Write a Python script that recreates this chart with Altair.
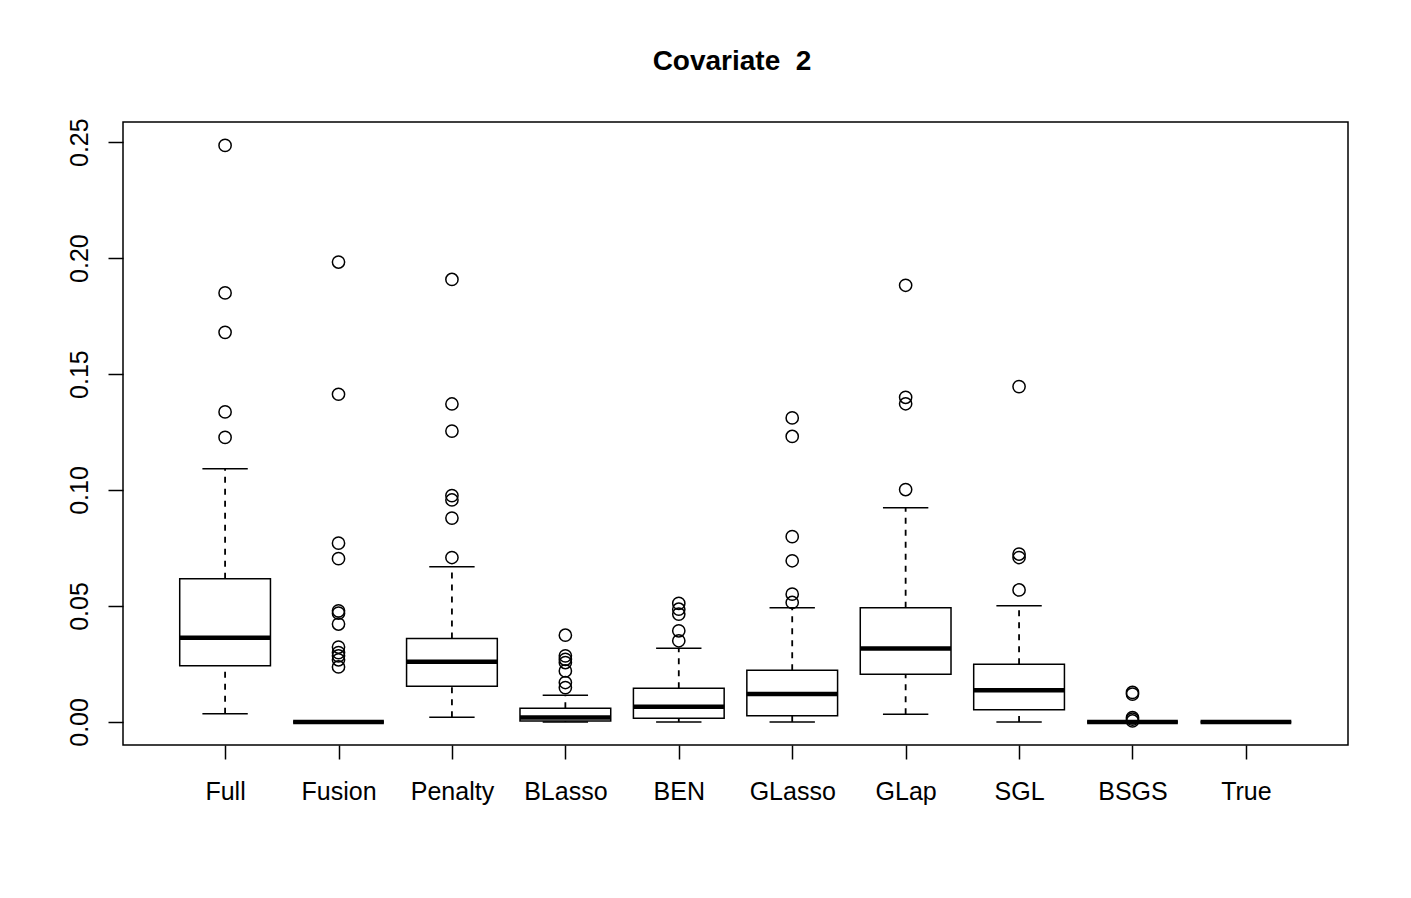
import json
import altair as alt
import pandas as pd

names = ["Full", "Fusion", "Penalty", "BLasso", "BEN", "GLasso", "GLap", "SGL", "BSGS", "True"]
whisker_low = [0.0035, 0.0, 0.0020, 0.0, 0.0, 0.0, 0.0033, 0.0, 0.0, 0.0]
q1 = [0.0242, 0.0, 0.0154, 0.0004, 0.0016, 0.0027, 0.0206, 0.0053, 0.0, 0.0]
median = [0.0363, 0.0, 0.0260, 0.0019, 0.0065, 0.0120, 0.0317, 0.0137, 0.0, 0.0]
q3 = [0.0617, 0.0, 0.0360, 0.0059, 0.0145, 0.0223, 0.0492, 0.0249, 0.0, 0.0]
whisker_high = [0.1092, 0.0, 0.0669, 0.0115, 0.0318, 0.0492, 0.0924, 0.0501, 0.0, 0.0]

outliers = {
    "Full": [0.2486, 0.1850, 0.1680, 0.1337, 0.1227],
    "Fusion": [0.1983, 0.1413, 0.0771, 0.0704, 0.0479, 0.0469, 0.0422, 0.0323, 0.0299, 0.0285, 0.0268, 0.0237],
    "Penalty": [0.1908, 0.1371, 0.1254, 0.0976, 0.0957, 0.0879, 0.0709],
    "BLasso": [0.0374, 0.0285, 0.0270, 0.0256, 0.0220, 0.0170, 0.0148],
    "BEN": [0.0511, 0.0486, 0.0465, 0.0393, 0.0350],
    "GLasso": [0.1311, 0.1231, 0.0799, 0.0695, 0.0551, 0.0515],
    "GLap": [0.1883, 0.1400, 0.1372, 0.1002],
    "SGL": [0.1446, 0.0724, 0.0709, 0.0569],
    "BSGS": [0.0127, 0.0120, 0.0019, 0.0012, 0.0004],
    "True": [],
}

y_ticks = [0.00, 0.05, 0.10, 0.15, 0.20, 0.25]

stats = pd.DataFrame({
    "name": names,
    "pos": list(range(1, len(names) + 1)),
    "wlo": whisker_low,
    "q1": q1,
    "med": median,
    "q3": q3,
    "whi": whisker_high,
})

out_rows = []
for i, n in enumerate(names):
    for v in outliers[n]:
        out_rows.append({"name": n, "pos": i + 1, "value": v})
out_df = pd.DataFrame(out_rows)

yscale = alt.Scale(domain=[-0.00995, 0.2587], nice=False, zero=False)
xscale = alt.Scale(domain=[0.1, 10.9], nice=False, zero=False)

label_expr = json.dumps(names) + "[datum.value - 1]"

base = alt.Chart(stats).transform_calculate(
    box_lo="datum.pos - 0.4",
    box_hi="datum.pos + 0.4",
    cap_lo="datum.pos - 0.2",
    cap_hi="datum.pos + 0.2",
)

xaxis = alt.Axis(values=list(range(1, 11)), labelExpr=label_expr, title=None,
                 tickSize=14, labelPadding=20, labelFontSize=25, labelBaseline="top",
                 domain=False, grid=False, tickColor="black", tickWidth=1.5,
                 labelColor="black", labelFont="Liberation Sans")
yaxis = alt.Axis(values=y_ticks, format=".2f", title=None, tickSize=15,
                 labelAngle=270, labelAlign="center", labelBaseline="alphabetic",
                 labelPadding=21, labelFontSize=25, domain=False, grid=False,
                 tickColor="black", tickWidth=1.5, labelColor="black",
                 labelFont="Liberation Sans")

dash = [6, 6]
whisk_lo = base.mark_rule(color="black", strokeWidth=1.8, strokeDash=dash).encode(
    x=alt.X("pos:Q", scale=xscale, axis=xaxis),
    y=alt.Y("wlo:Q", scale=yscale, axis=yaxis),
    y2="q1:Q",
)
whisk_hi = base.mark_rule(color="black", strokeWidth=1.8, strokeDash=dash).encode(
    x=alt.X("pos:Q", scale=xscale),
    y=alt.Y("q3:Q", scale=yscale),
    y2="whi:Q",
)
cap_lo = base.mark_rule(color="black", strokeWidth=1.5).encode(
    x=alt.X("cap_lo:Q", scale=xscale), x2="cap_hi:Q",
    y=alt.Y("wlo:Q", scale=yscale),
)
cap_hi = base.mark_rule(color="black", strokeWidth=1.5).encode(
    x=alt.X("cap_lo:Q", scale=xscale), x2="cap_hi:Q",
    y=alt.Y("whi:Q", scale=yscale),
)
box = base.mark_rect(fill="white", stroke="black", strokeWidth=1.5).encode(
    x=alt.X("box_lo:Q", scale=xscale), x2="box_hi:Q",
    y=alt.Y("q1:Q", scale=yscale), y2="q3:Q",
)
med = base.mark_rule(color="black", strokeWidth=4.5).encode(
    x=alt.X("box_lo:Q", scale=xscale), x2="box_hi:Q",
    y=alt.Y("med:Q", scale=yscale),
)
pts = alt.Chart(out_df).mark_point(shape="circle", filled=False, size=150,
                                   color="black", strokeWidth=1.5, opacity=1).encode(
    x=alt.X("pos:Q", scale=xscale),
    y=alt.Y("value:Q", scale=yscale),
)
title = alt.Chart(alt.Data(values=[{}])).mark_text(
    text="Covariate\u00a0\u00a02", font="Liberation Sans", fontSize=28,
    fontWeight="bold", color="black", align="center", baseline="alphabetic",
).encode(x=alt.value(609), y=alt.value(-52))

chart = alt.layer(whisk_lo, whisk_hi, cap_lo, cap_hi, box, med, pts, title).properties(
    width=1225, height=623,
    autosize=alt.AutoSizeParams(type="none"),
    padding={"left": 123, "top": 122, "right": 63, "bottom": 153},
    background="white",
).configure_view(stroke="black", strokeWidth=1.5)

chart.save("out.html", embed_options={"renderer": "svg", "actions": False})
